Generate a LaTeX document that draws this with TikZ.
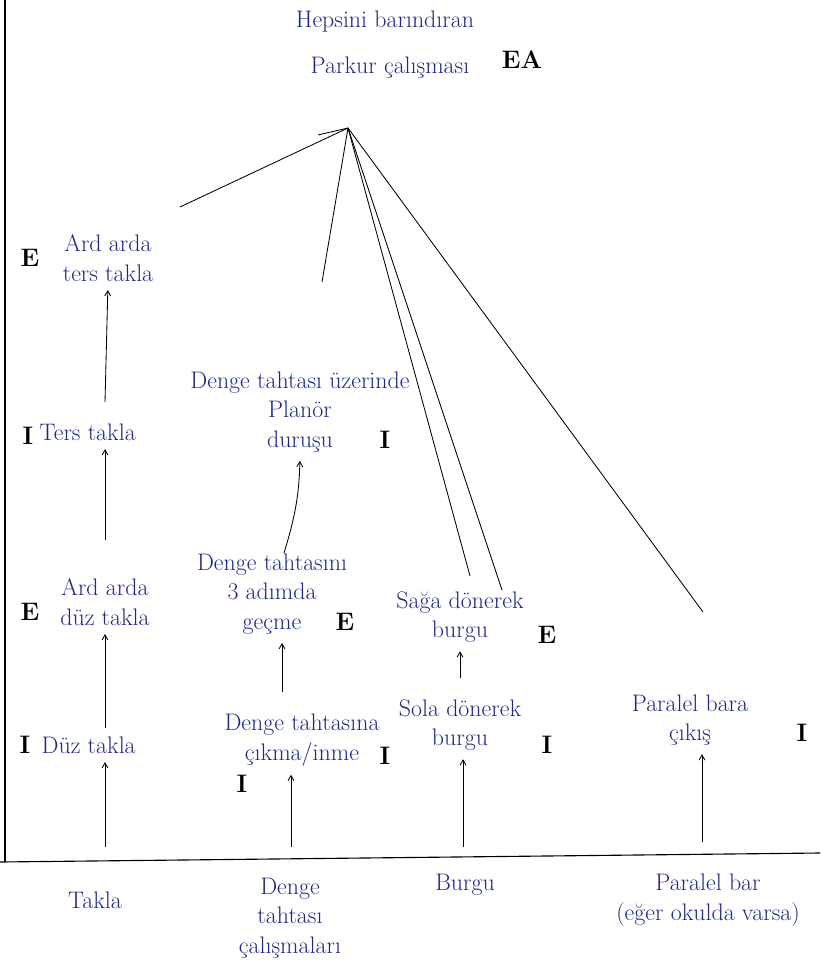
\documentclass[tikz,border=0pt]{standalone}
\usepackage{fontspec}
\usetikzlibrary{arrows}
\definecolor{ink}{RGB}{30,40,130}
\tikzset{
    lbl/.style={text=ink,font=\fontsize{17}{21}\selectfont,inner sep=1pt,align=center},
    mrk/.style={text=black,font=\fontsize{18}{20}\selectfont\bfseries,inner sep=1pt},
    up/.style={->,>=angle 60,semithick,shorten >=5pt},
}

\begin{document}
\begin{tikzpicture}[x=0.025cm,y=-0.025cm]
\useasboundingbox (0,0) rectangle (820,970);
\draw[thick] (5,0) -- (5,862);
\draw[thick] (0,862) -- (820,853);
% ust
\node[lbl] (top1) at (385,22) {Hepsini barındıran};
\node[lbl] (top2) at (390,68) {Parkur çalışması};
\node[mrk] (ea) at (522,60) {EA};
\coordinate (apex) at (348,128);
\coordinate (lw) at (318,135);
\draw[semithick] (lw) -- (apex);
\coordinate (e1) at (180,207);
\coordinate (e2) at (322,282);
\coordinate (e3) at (470,576);
\coordinate (e4) at (502,590);
\coordinate (e5) at (703,612);
\draw[semithick] (apex) -- (e1);
\draw[semithick] (apex) -- (e2);
\draw[semithick] (apex) -- (e3);
\draw[semithick] (apex) -- (e4);
\draw[semithick] (apex) -- (e5);
% takla
\node[lbl] (t4) at (108,258) {Ard arda\\ters takla};
\node[mrk] (t4m) at (30,258) {E};
\node[lbl,anchor=west] (t3) at (38,432) {Ters takla};
\node[mrk] (t3m) at (28,436) {I};
\node[lbl] (t2) at (105,602) {Ard arda\\düz takla};
\node[mrk] (t2m) at (30,612) {E};
\node[lbl,anchor=west] (t1) at (40,745) {Düz takla};
\node[mrk] (t1m) at (25,745) {I};
\node[lbl] (b1) at (95,900) {Takla};
\coordinate (s1) at (105,847);
\coordinate (s1b) at (105,728);
\coordinate (s1c) at (105,540);
\coordinate (s1d) at (105,402);
\draw[up] (s1) -- (s1 |- t1.south);
\draw[up] (s1b) -- (s1b |- t2.south);
\draw[up] (s1c) -- (s1c |- t3.south);
\draw[up] (s1d) -- (t4.south);
% denge tahtasi
\node[lbl] (d4) at (300,412) {Denge tahtası üzerinde\\Planör\\duruşu};
\node[mrk] (d4m) at (385,440) {I};
\node[lbl] (d3) at (272,594) {Denge tahtasını\\3 adımda\\geçme};
\node[mrk] (d3m) at (345,622) {E};
\node[lbl] (d2) at (302,740) {Denge tahtasına\\çıkma/inme};
\node[mrk] (d2m) at (385,756) {I};
\node[mrk] (d2n) at (242,784) {I};
\node[lbl] (b2) at (290,918) {Denge\\tahtası\\çalışmaları};
\coordinate (s2) at (291,847);
\coordinate (s2b) at (282,692);
\coordinate (s2c) at (284,553);
\draw[up] (s2) -- (s2 |- d2.south);
\draw[up] (s2b) -- (s2b |- d3.south);
\draw[up] (s2c) to[bend right=8] (d4.south);
% burgu
\node[lbl] (g2) at (460,617) {Sağa dönerek\\burgu};
\node[mrk] (g2m) at (547,635) {E};
\node[lbl] (g1) at (460,725) {Sola dönerek\\burgu};
\node[mrk] (g1m) at (547,745) {I};
\node[lbl] (b3) at (465,885) {Burgu};
\coordinate (s3) at (463,847);
\coordinate (s3b) at (460,678);
\draw[up] (s3) -- (s3 |- g1.south);
\draw[up] (s3b) -- (s3b |- g2.south);
% paralel bar
\node[lbl] (p1) at (690,720) {Paralel bara\\çıkış};
\node[mrk] (p1m) at (802,733) {I};
\node[lbl] (b4) at (708,900) {Paralel bar\\(eğer okulda varsa)};
\coordinate (s4) at (702,842);
\draw[up] (s4) -- (s4 |- p1.south);
\end{tikzpicture}
\end{document}
